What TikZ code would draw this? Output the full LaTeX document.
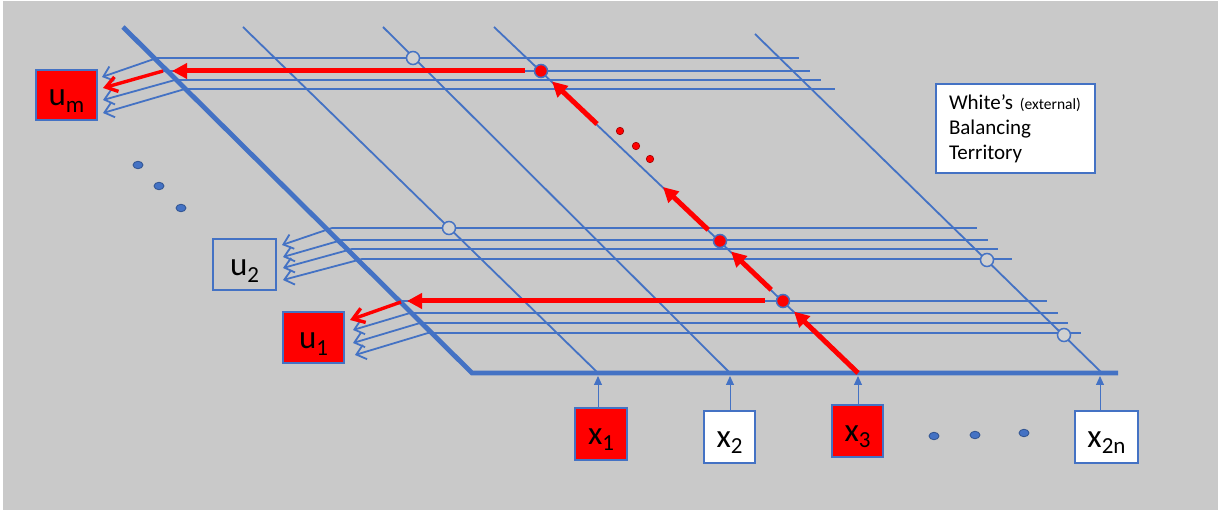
\documentclass[tikz,border=0pt]{standalone}
\usepackage{fontspec}
\setmainfont{Carlito}
\usetikzlibrary{arrows.meta,calc,shapes.geometric}
\definecolor{bgc}{RGB}{201,201,201}
\definecolor{ob}{RGB}{68,114,196}
\definecolor{obd}{RGB}{47,82,143}
\definecolor{rd}{RGB}{255,0,0}
\definecolor{rdd}{RGB}{160,0,0}
\newcommand\boxlab[3]{\raisebox{-#3}[0pt][0pt]{\fontsize{33}{33}\selectfont #1\raisebox{-7pt}{\fontsize{23}{23}\selectfont #2}}}
\begin{document}
\begin{tikzpicture}[x=1pt,y=-1pt,
  bthick/.style={draw=ob,line width=4.8pt,line join=miter},
  bline/.style={draw=ob,line width=1.8pt},
  barb/.style={draw=ob,line width=1.8pt,-{Straight Barb[length=9pt,width=15pt]}},
  rthick/.style={draw=rd,line width=5pt,-{Triangle[length=15pt,width=15pt]}},
  rbent/.style={draw=rd,line width=3.4pt,-{Straight Barb[length=11pt,width=15pt]}},
  rdot/.style={circle,fill=rd,draw=ob,line width=1.5pt,minimum size=13pt,inner sep=0pt},
  odot/.style={circle,fill=bgc!85!white,draw=ob,line width=1.5pt,minimum size=13pt,inner sep=0pt},
  smalldot/.style={ellipse,fill=rd,draw=rdd,line width=0.6pt,minimum width=7.5pt,minimum height=7.5pt,inner sep=0pt},
  idot/.style={ellipse,fill=ob,draw=obd,line width=0.8pt,minimum width=10pt,minimum height=7.5pt,inner sep=0pt},
  ubox/.style={draw=ob,line width=1.5pt,inner sep=0pt},
  inarr/.style={draw=ob,line width=1pt,-{Triangle[length=9pt,width=8pt]}},
]
\useasboundingbox (0,0) rectangle (1218,510);
\fill[white] (0,0) rectangle (1218,510);
\fill[bgc] (3,1) rectangle (1218,510);

% diagonal lines
\coordinate (T0) at (123,27);  \coordinate (B0) at (472,373);
\coordinate (T1) at (243,27);  \coordinate (B1) at (598,373);
\coordinate (T2) at (383,27);  \coordinate (B2) at (730,373);
\coordinate (T3) at (494,27);  \coordinate (B3) at (858,373);
\coordinate (T4) at (755,34);  \coordinate (B4) at (1102,373);
\coordinate (BE) at (1118,373);
\draw[bline] (T1) -- (B1);
\draw[bline] (T2) -- (B2);
\draw[bline] (T3) -- (B3);
\draw[bline] (T4) -- (B4);

% horizontal lines
\foreach \y/\s/\e in {58/157/799, 71/163/810, 80/175/821, 89/185/835,
  228/332/977, 240/342/988, 249/352/998, 259/362/1012,
  301/400/1047, 313/410/1058, 323/420/1068, 333/428/1081}{
  \coordinate (hs) at (\s,\y);
  \coordinate (he) at (\e,\y);
  \draw[bline] (hs) -- (he);
}
% bent arrows to the u boxes
\foreach \y/\s/\tx/\ty in {58/157/102/77, 80/175/103/100, 89/185/103/113,
  228/332/282/245, 240/342/283/257, 249/352/283/268, 259/362/283/280,
  313/410/353/330, 323/420/353/343, 333/428/355/355}{
  \coordinate (bs) at (\s,\y);
  \coordinate (bt) at (\tx,\ty);
  \draw[barb] (bs) -- (bt);
}
\draw[bthick] (T0) -- (B0) -- (BE);

% dots on the grid
\node[odot] (o1) at (413,58) {};
\node[odot] (o2) at (449,228) {};
\node[odot] (o3) at (987,260) {};
\node[odot] (o4) at (1064,335) {};

\node[rdot] (d1) at (783,301) {};
\node[rdot] (d2) at (720,241) {};
\node[rdot] (d3) at (541,71) {};

% red path
\coordinate (a3tip) at (663,187);
\coordinate (a4tail) at (597,124);
\coordinate (hmtip) at (172,71);
\coordinate (h1tip) at (407,301);
\draw[rthick,shorten >=8pt] (B3) -- (d1);
\draw[rthick,shorten <=9pt,shorten >=8pt] (d1) -- (d2);
\draw[rthick,shorten <=9pt] (d2) -- (a3tip);
\draw[rthick,shorten >=8pt] (a4tail) -- (d3);
\draw[rthick,shorten <=9pt] (d3) -- (hmtip);
\draw[rthick,shorten <=11pt] (d1) -- (h1tip);
\coordinate (rbm) at (163,71); \coordinate (rbmt) at (103,88);
\coordinate (rb1) at (401,302); \coordinate (rb1t) at (350,320);
\draw[rbent] (rbm) -- (rbmt);
\draw[rbent] (rb1) -- (rb1t);

\node[smalldot] (r1) at (620,131) {};
\node[smalldot] (r2) at (636,146) {};
\node[smalldot] (r3) at (650,159) {};

% boxes u
\node[ubox,fill=rd,minimum width=61pt,minimum height=50pt] (um) at (66.5,95) {\boxlab{u}{m}{11pt}};
\node[ubox,fill=bgc,minimum width=63pt,minimum height=51pt] (u2) at (244.5,264.5) {\boxlab{u}{2}{11pt}};
\node[ubox,fill=rd,minimum width=61pt,minimum height=51pt] (u1) at (313.5,337.5) {\boxlab{u}{1}{11pt}};

% ellipsis dots
\node[idot] (e1) at (138,165) {};
\node[idot] (e2) at (159,186) {};
\node[idot] (e3) at (181,208) {};
\node[idot] (e4) at (934,436) {};
\node[idot] (e5) at (975,435) {};
\node[idot] (e6) at (1024,433) {};

% input boxes
\node[ubox,fill=rd,minimum width=52pt,minimum height=52pt] (x1) at (601,434) {\boxlab{x}{1}{10pt}};
\node[ubox,fill=white,minimum width=51pt,minimum height=52pt] (x2) at (729.5,437) {\boxlab{x}{2}{10pt}};
\node[ubox,fill=rd,minimum width=51pt,minimum height=52pt] (x3) at (857.5,431) {\boxlab{x}{3}{10pt}};
\node[ubox,fill=white,minimum width=63pt,minimum height=52pt] (x4) at (1106.5,437) {\boxlab{x}{2n}{10pt}};

\coordinate (i1) at (598,376);
\coordinate (i2) at (730,376);
\coordinate (i3) at (858,376);
\coordinate (i4) at (1100,376);
\draw[inarr] (i1 |- x1.north) -- (i1);
\draw[inarr] (i2 |- x2.north) -- (i2);
\draw[inarr] (i3 |- x3.north) -- (i3);
\draw[inarr] (i4 |- x4.north) -- (i4);

% text box
\node[draw=ob,fill=white,line width=1.5pt,text width=133pt,inner xsep=13pt,inner ysep=0pt,
  minimum height=89pt,align=left,font=\fontsize{21}{25}\selectfont] (wt) at (1015.5,128.5)
  {White’s {\fontsize{15.5}{25}\selectfont (external)}\\Balancing\\Territory};
\end{tikzpicture}
\end{document}
